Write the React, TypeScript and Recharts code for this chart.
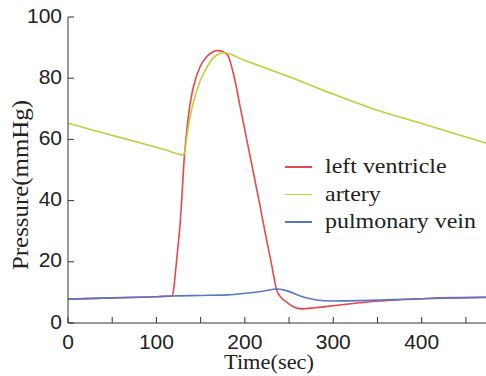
import React from "react";
import { LineChart, Line, XAxis, YAxis, Legend, Label } from "recharts";

// time (sec) and pressure (mmHg) for each series
const lvTime = [0, 50, 100, 117.5, 119.5, 121, 124, 126.5, 129, 131, 134, 138, 143, 149, 156, 163, 169, 176, 181, 188.7, 195.5, 207, 217, 223, 230, 236, 241, 247, 255, 264, 280, 307, 330, 352, 375, 398, 420, 445, 475];
const lvPressure = [7.8, 8.2, 8.6, 8.8, 11, 15, 24, 31.4, 42, 52, 62, 71.5, 78.5, 83.5, 86.8, 88.5, 89, 88.6, 87.3, 79.4, 69.5, 53, 38.5, 29.5, 19.5, 10.8, 8.3, 6.9, 5.3, 4.6, 5.0, 5.9, 6.6, 7.2, 7.6, 7.9, 8.2, 8.3, 8.4];

const arteryTime = [0, 40, 80, 110, 131, 133, 136, 140, 143.5, 150, 157, 164, 170, 176, 200, 250, 300, 350, 400, 450, 475];
const arteryPressure = [65.3, 62.1, 59.0, 56.6, 54.9, 58, 64, 70, 73.9, 79.5, 83.5, 86.5, 87.8, 88.3, 85.8, 80.5, 74.8, 69.5, 65.2, 60.8, 58.6];

const pvTime = [0, 50, 100, 117, 150, 180, 200, 220, 237, 248, 259, 270, 281, 299, 330, 360, 400, 440, 475];
const pvPressure = [7.8, 8.2, 8.6, 8.8, 9.0, 9.2, 9.7, 10.4, 11.1, 10.5, 9.2, 8.2, 7.5, 7.2, 7.3, 7.6, 7.9, 8.2, 8.4];

const xTicks = [0, 50, 100, 150, 200, 250, 300, 350, 400, 450];
const yTicks = [0, 20, 40, 60, 80, 100];

const seriesNames = ["left ventricle", "artery", "pulmonary vein"];
const seriesColors = ["#e8474e", "#bcd03b", "#5878c6"];

const lvData = lvTime.map((t, i) => ({ t, p: lvPressure[i] }));
const arteryData = arteryTime.map((t, i) => ({ t, p: arteryPressure[i] }));
const pvData = pvTime.map((t, i) => ({ t, p: pvPressure[i] }));

const AXIS = "#333";

const XTick = (props: any) => {
  const { x, y, payload } = props;
  if (payload.value % 100 !== 0) return <g />;
  return (
    <text x={x} y={y} textAnchor="middle" fontFamily="'Liberation Sans', Arial, sans-serif" fontSize={21} fill="#222">
      {payload.value}
    </text>
  );
};

const YTick = (props: any) => {
  const { x, y, payload } = props;
  return (
    <text x={x} y={y + 5.5} textAnchor="end" fontFamily="'Liberation Sans', Arial, sans-serif" fontSize={21} fill="#222">
      {payload.value}
    </text>
  );
};

const Empty = () => <g />;

const LegendContent = () => {
  return (
    <div style={{ fontFamily: "'Liberation Serif', 'Times New Roman', serif", fontSize: 21, color: "#222" }}>
      {seriesNames.map((name, i) => (
        <div key={name} style={{ display: "flex", alignItems: "center", height: 27.5, whiteSpace: "nowrap" }}>
          <span style={{ display: "inline-block", width: 27, height: 1.5, background: seriesColors[i], marginRight: 13 }} />
          <span style={{ display: "inline-block", transform: "scaleX(1.14)", transformOrigin: "left center", lineHeight: "27.5px" }}>
            {name}
          </span>
        </div>
      ))}
    </div>
  );
};

export default function App() {
  return (
    <div style={{ position: "absolute", left: 0, top: 0, width: 486, height: 376, overflow: "hidden", background: "#fff" }}>
      <LineChart width={500} height={376} margin={{ top: 17, right: 0, bottom: 0, left: 0 }}>
        <XAxis
          xAxisId="bottom"
          dataKey="t"
          type="number"
          domain={[0, 475]}
          ticks={xTicks}
          height={53}
          tickSize={-6}
          tickMargin={32}
          tick={XTick}
          stroke={AXIS}
          interval={0}
          allowDuplicatedCategory={false}
        >
          <Label
            content={(p: any) => (
              <text
                x={p.viewBox.x + 201}
                y={p.viewBox.y + 46}
                textAnchor="middle"
                fontFamily="'Liberation Serif', 'Times New Roman', serif"
                fontSize={22}
                fill="#222"
                textLength={90}
                lengthAdjust="spacingAndGlyphs"
              >
                Time(sec)
              </text>
            )}
          />
        </XAxis>
        <XAxis
          xAxisId="top"
          orientation="top"
          dataKey="t"
          type="number"
          domain={[0, 475]}
          ticks={xTicks}
          height={0}
          tickSize={-6}
          tick={Empty}
          stroke={AXIS}
          interval={0}
        />
        <YAxis
          yAxisId="left"
          type="number"
          domain={[0, 100]}
          ticks={yTicks}
          width={68}
          tickSize={-6}
          tickMargin={12}
          tick={YTick}
          stroke={AXIS}
          interval={0}
        >
          <Label
            content={() => (
              <text
                x={28}
                y={185}
                transform="rotate(-90 28 185)"
                textAnchor="middle"
                fontFamily="'Liberation Serif', 'Times New Roman', serif"
                fontSize={23}
                fill="#222"
                textLength={170}
                lengthAdjust="spacingAndGlyphs"
              >
                Pressure(mmHg)
              </text>
            )}
          />
        </YAxis>
        <YAxis
          yAxisId="right"
          orientation="right"
          type="number"
          domain={[0, 100]}
          ticks={yTicks}
          width={12}
          tickSize={-6}
          tick={Empty}
          stroke={AXIS}
          interval={0}
        />
        <Legend
          layout="vertical"
          align="center"
          verticalAlign="middle"
          wrapperStyle={{ left: 285, top: 153, width: 200 }}
          content={LegendContent}
        />
        <Line
          xAxisId="bottom"
          yAxisId="left"
          data={lvData}
          dataKey="p"
          name={seriesNames[0]}
          type="monotone"
          stroke={seriesColors[0]}
          strokeWidth={1.6}
          dot={false}
          isAnimationActive={false}
        />
        <Line
          xAxisId="bottom"
          yAxisId="left"
          data={arteryData}
          dataKey="p"
          name={seriesNames[1]}
          type="monotone"
          stroke={seriesColors[1]}
          strokeWidth={1.6}
          dot={false}
          isAnimationActive={false}
        />
        <Line
          xAxisId="bottom"
          yAxisId="left"
          data={pvData}
          dataKey="p"
          name={seriesNames[2]}
          type="monotone"
          stroke={seriesColors[2]}
          strokeWidth={1.6}
          dot={false}
          isAnimationActive={false}
        />
      </LineChart>
    </div>
  );
}
